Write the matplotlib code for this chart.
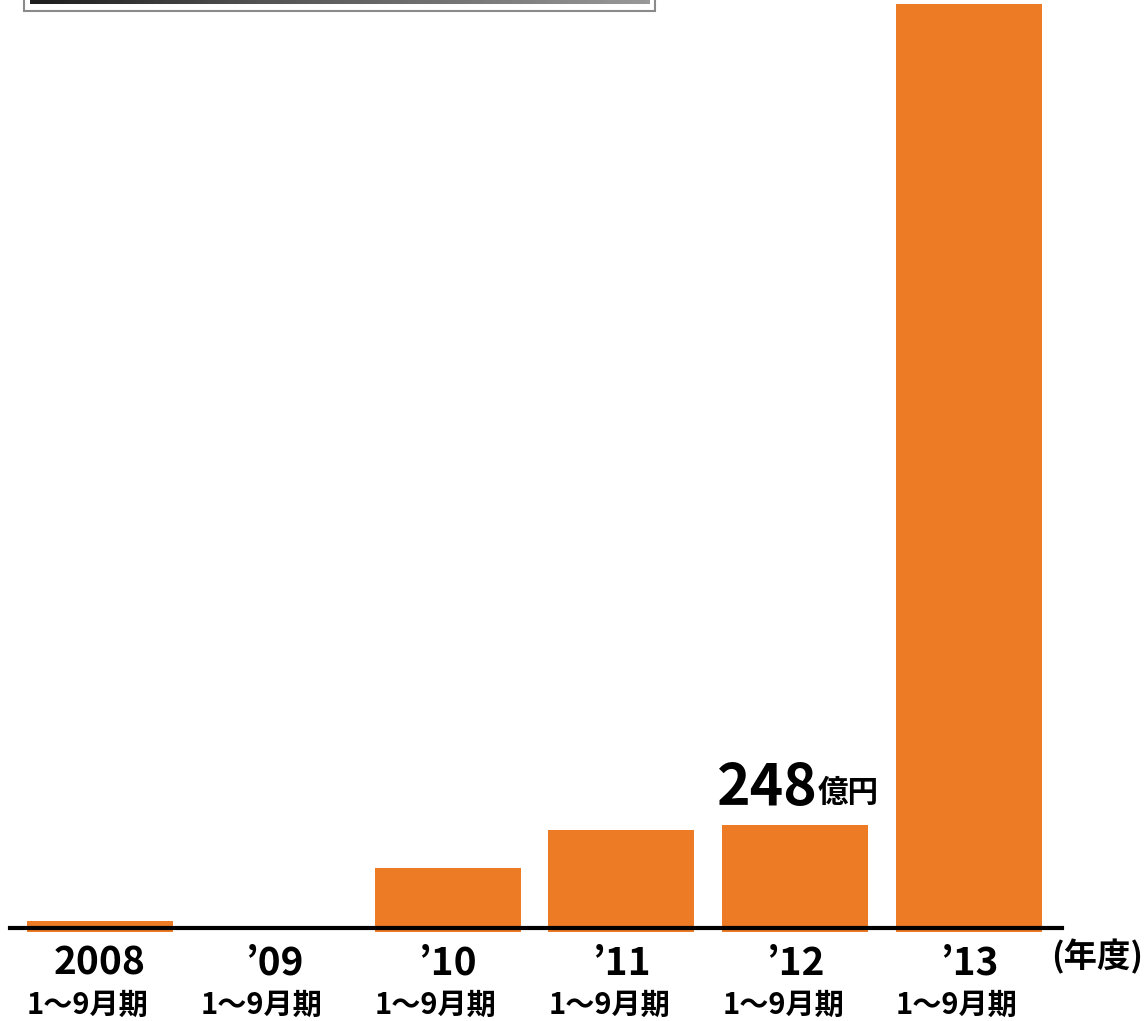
import matplotlib.pyplot as plt
import matplotlib.patches as mpatches
import numpy as np

plt.rcParams['font.family'] = ['Noto Sans CJK JP', 'DejaVu Sans']

# data (億円)
years = ["2008", "’09", "’10", "’11", "’12", "’13"]
period = "1〜9月期"
values = [25, 0, 148, 236, 248, 2151]
bar_color = "#ED7A25"

fig = plt.figure(figsize=(11.47, 10.21), dpi=100)
ax = fig.add_axes([0, 0, 1, 1])
ax.set_axis_off()

# pixel -> data mapping: bar centres 174 px apart, 2.318 units per px
px_x = 173.8
px_y = 2.318
xlim = (-100 / px_x, (1147 - 100) / px_x)
ylim = (-(1021 - 932) * px_y, 932 * px_y)

x = np.arange(len(years))
ax.bar(x, values, width=0.84, color=bar_color, zorder=2)

# baseline
ax.axhline(4 * px_y, xmin=10 / 1147, xmax=1062 / 1147, color="black", lw=3, zorder=3)

# category labels
for xi, yr in zip(x, years):
    ax.text(xi, -31 * px_y, yr, ha="center", va="center", fontsize=28,
            fontweight="bold", color="black")
    ax.text(xi - 0.07, -73 * px_y, period, ha="center", va="center", fontsize=21,
            fontweight="bold", color="black")

ax.text(0.997, 1 - 957 / 1021, "(年度)", transform=ax.transAxes, ha="right",
        va="center", fontsize=24, fontweight="bold")

# value annotation for '12
ax.annotate("248", xy=(4, values[4]), xytext=(-78, 36), textcoords="offset pixels",
            ha="left", va="center", fontsize=41, fontweight="bold")
ax.annotate("億円", xy=(4, values[4]), xytext=(22, 32), textcoords="offset pixels",
            ha="left", va="center", fontsize=22, fontweight="bold")

# cut-off box at the top
box = mpatches.Rectangle((24 / 1147, 1 - 11 / 1021), (655 - 24) / 1147, 30 / 1021,
                         transform=ax.transAxes, facecolor="white", edgecolor="#8a8a8a",
                         lw=1.5, zorder=4, clip_on=False)
ax.add_patch(box)
grad = np.linspace(0, 1, 256).reshape(1, -1)
ax.imshow(grad, cmap="Greys_r", vmin=-0.25, vmax=2.2, aspect="auto", zorder=5,
          extent=(30 / 1147, 650 / 1147, 1 - 4 / 1021, 1.0), transform=ax.transAxes)
ax.set_xlim(*xlim)
ax.set_ylim(*ylim)

fig.savefig("out.png", dpi=100)
